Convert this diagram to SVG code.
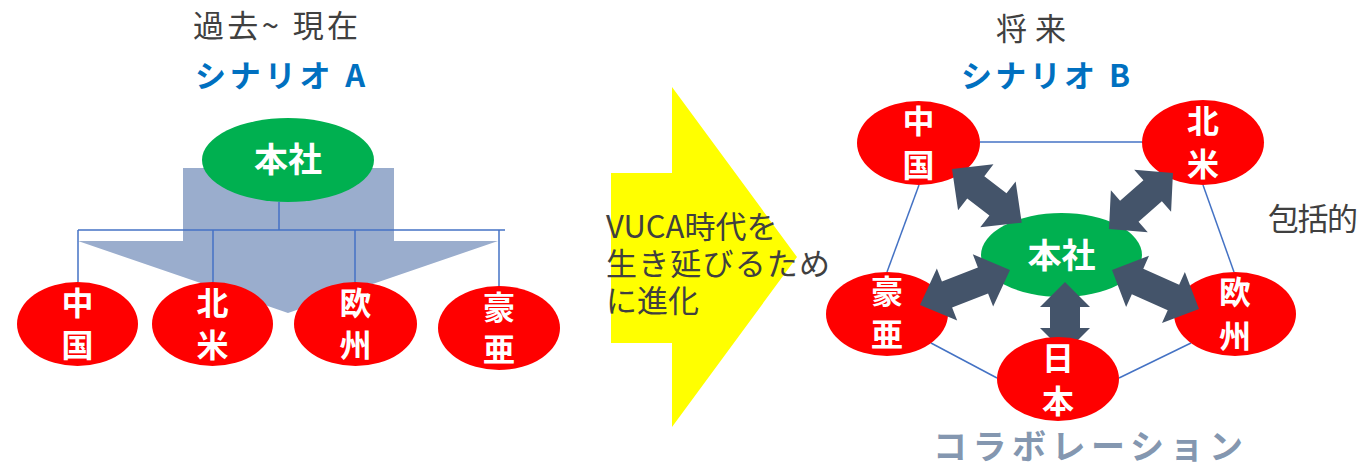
<svg xmlns="http://www.w3.org/2000/svg" width="1364" height="466" viewBox="0 0 1364 466">
<defs>
<style>
text{font-family:"Noto Sans CJK JP","Noto Sans",sans-serif}
.t{fill:#404040;font-size:31px}
.sc{fill:#0070C0;font-size:31px;font-weight:bold}
.red{fill:#FF0000}
.grn{fill:#00B050}
.lbl{fill:#FFFFFF;font-size:32px;font-weight:bold;text-anchor:middle}
.hq{fill:#FFFFFF;font-size:34px;font-weight:bold;text-anchor:middle}
.ln{stroke:#4472C4;stroke-width:1.5;fill:none}
.da{fill:#44546A}
</style>
</defs>
<rect width="1364" height="466" fill="#FFFFFF"/>

<!-- Titles -->
<text class="t" x="193" y="37" font-size="32" textLength="165" lengthAdjust="spacing">過去~ 現在</text>
<text class="sc" x="195" y="87" textLength="170" lengthAdjust="spacing">シナリオ A</text>
<text class="t" x="996" y="40" font-size="34" textLength="70" lengthAdjust="spacing">将来</text>
<text class="sc" x="961" y="87" textLength="169" lengthAdjust="spacing">シナリオ B</text>

<!-- Left big down arrow -->
<polygon id="downArrow" points="183,168 394,168 394,241 498,241 288,313 78,241 183,241" fill="#9AADCD"/>

<!-- Left connectors -->
<g id="leftConnectors" class="ln">
<line x1="279" y1="202" x2="279" y2="230"/>
<line x1="78" y1="230" x2="505" y2="230"/>
<line x1="78" y1="230" x2="78" y2="282"/>
<line x1="213" y1="230" x2="213" y2="282"/>
<line x1="355" y1="230" x2="355" y2="282"/>
<line x1="499" y1="230" x2="499" y2="286"/>
</g>

<g id="A_hq"><ellipse class="grn" cx="288" cy="160" rx="86" ry="42"/><text class="hq" x="288" y="172">本社</text></g>
<g id="A_china"><ellipse class="red" cx="77.5" cy="324" rx="60.5" ry="42"/><text class="lbl" x="77.5" y="315">中</text><text class="lbl" x="77.5" y="357">国</text></g>
<g id="A_na"><ellipse class="red" cx="212.5" cy="324" rx="60.5" ry="42"/><text class="lbl" x="212.5" y="315">北</text><text class="lbl" x="212.5" y="357">米</text></g>
<g id="A_eu"><ellipse class="red" cx="355.5" cy="324" rx="61.5" ry="42"/><text class="lbl" x="355.5" y="315">欧</text><text class="lbl" x="355.5" y="357">州</text></g>
<g id="A_asia"><ellipse class="red" cx="499" cy="328" rx="61" ry="42"/><text class="lbl" x="499" y="319">豪</text><text class="lbl" x="499" y="361">亜</text></g>

<!-- Yellow arrow -->
<g id="transition">
<polygon points="611,173 672,173 672,87 797,257 672,427 672,343 611,343" fill="#FFFF00"/>
<text class="t" x="606" y="238">VUCA時代を</text>
<text class="t" x="606" y="275" textLength="224" lengthAdjust="spacing">生き延びるため</text>
<text class="t" x="606" y="312">に進化</text>
</g>

<!-- Right pentagon connectors -->
<g id="rightConnectors" class="ln">
<line x1="980" y1="142" x2="1142" y2="142"/>
<line x1="919" y1="185" x2="887" y2="272"/>
<line x1="1203" y1="185" x2="1234" y2="272"/>
<line x1="931" y1="343" x2="997" y2="378"/>
<line x1="1119" y1="378" x2="1191" y2="343"/>
</g>

<g id="B_china"><ellipse class="red" cx="918.5" cy="143" rx="61.5" ry="42"/><text class="lbl" x="918.5" y="133">中</text><text class="lbl" x="918.5" y="177">国</text></g>
<g id="B_na"><ellipse class="red" cx="1203" cy="142.5" rx="61" ry="42.5"/><text class="lbl" x="1203" y="133">北</text><text class="lbl" x="1203" y="176">米</text></g>
<g id="B_asia"><ellipse class="red" cx="887" cy="314" rx="61" ry="42"/><text class="lbl" x="887" y="303">豪</text><text class="lbl" x="887" y="346">亜</text></g>
<g id="B_eu"><ellipse class="red" cx="1235" cy="314" rx="61" ry="42"/><text class="lbl" x="1235" y="304">欧</text><text class="lbl" x="1235" y="348">州</text></g>
<g id="B_hq"><ellipse class="grn" cx="1061.5" cy="255" rx="80.5" ry="42"/><text class="hq" x="1061.5" y="268">本社</text></g>

<!-- Double arrows -->
<g id="doubleArrows" class="da">
<path transform="translate(952,169) rotate(37.6)" d="M0,0 L30,-29 L30,-14 L58,-14 L58,-29 L88,0 L58,29 L58,14 L30,14 L30,29 Z"/>
<path transform="translate(1109,229) rotate(-41.2)" d="M0,0 L27,-28 L27,-14 L58,-14 L58,-28 L85,0 L58,28 L58,14 L27,14 L27,28 Z"/>
<path transform="translate(920,305) rotate(-21.3)" d="M0,0 L29,-28 L29,-14 L67.6,-14 L67.6,-28 L96.6,0 L67.6,28 L67.6,14 L29,14 L29,28 Z"/>
<path transform="translate(1112,270) rotate(24.1)" d="M0,0 L28,-28 L28,-14 L67.3,-14 L67.3,-28 L95.3,0 L67.3,28 L67.3,14 L28,14 L28,28 Z"/>
<path transform="translate(1065,282) rotate(90)" d="M0,0 L25,-25 L25,-15 L46,-15 L46,-25 L71,0 L46,25 L46,15 L25,15 L25,25 Z"/>
</g>

<g id="B_japan"><ellipse class="red" cx="1058" cy="379" rx="61" ry="42"/><text class="lbl" x="1058" y="370">日</text><text class="lbl" x="1058" y="413">本</text></g>

<text class="t" x="1268" y="230" textLength="90" lengthAdjust="spacing">包括的</text>
<text x="933" y="459" font-size="34" font-weight="bold" fill="#8497B0" textLength="310" lengthAdjust="spacing">コラボレーション</text>
</svg>
